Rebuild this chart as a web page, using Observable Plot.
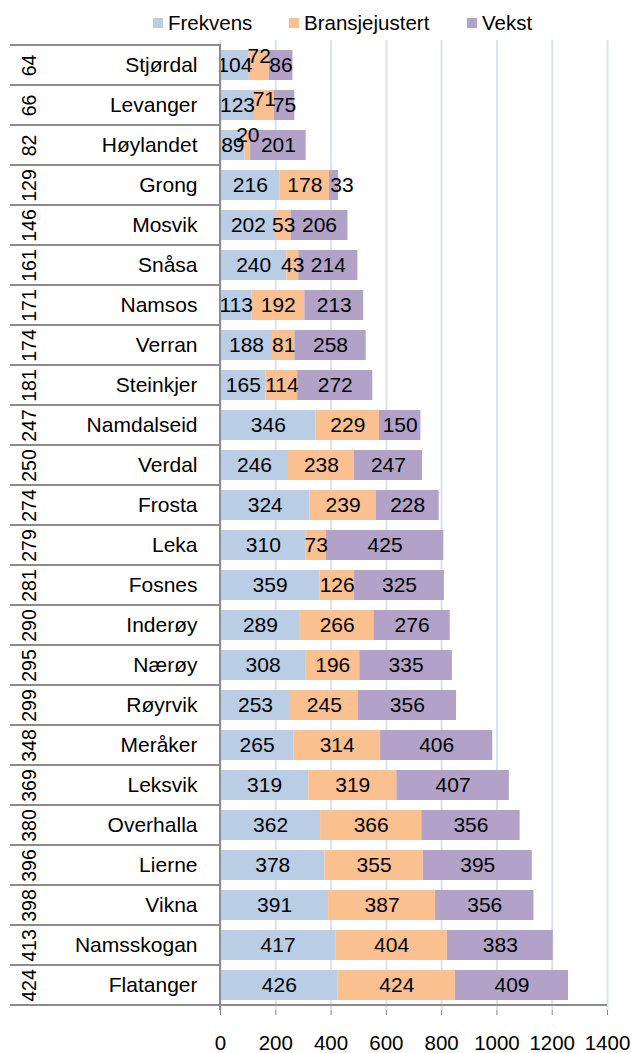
<!DOCTYPE html>
<html>
<head>
<meta charset="utf-8">
<script src="https://cdn.jsdelivr.net/npm/d3@7"></script>
<script src="https://cdn.jsdelivr.net/npm/@observablehq/plot@0.6"></script>
<style>
  body { margin: 0; background: white; font-family: "Liberation Sans", Arial, sans-serif; }
  #legend { position: relative; height: 36px; width: 634px; font-size: 20.5px; color: black; }
  .li { position: absolute; top: 0; height: 36px; display: flex; align-items: center; }
  .li span.sw { width: 10px; height: 10px; margin-right: 5px; display: inline-block; margin-top: 9px; }
  .li span.tx { line-height: 20px; margin-top: 9px; }
  svg { display: block; }
  svg [aria-label="x-axis tick"] { stroke: #868686; }
  svg [aria-label="x-axis"] line { stroke: #868686; }
  svg [aria-label="x-axis"] .domain { display: none; }
</style>
</head>
<body>
<div id="legend"></div>
<div id="chart"></div>
<script>
const names = ["Stjørdal","Levanger","Høylandet","Grong","Mosvik","Snåsa","Namsos","Verran","Steinkjer","Namdalseid","Verdal","Frosta","Leka","Fosnes","Inderøy","Nærøy","Røyrvik","Meråker","Leksvik","Overhalla","Lierne","Vikna","Namsskogan","Flatanger"];
const codes = [64,66,82,129,146,161,171,174,181,247,250,274,279,281,290,295,299,348,369,380,396,398,413,424];
const frekvens = [104,123,89,216,202,240,113,188,165,346,246,324,310,359,289,308,253,265,319,362,378,391,417,426];
const bransjejustert = [72,71,20,178,53,43,192,81,114,229,238,239,73,126,266,196,245,314,319,366,355,387,404,424];
const vekst = [86,75,201,33,206,214,213,258,272,150,247,228,425,325,276,335,356,406,407,356,395,356,383,409];
const seriesNames = ["Frekvens","Bransjejustert","Vekst"];
const seriesColors = ["#b9cde5","#fac090","#b3a2c7"];
const xTicks = [0,200,400,600,800,1000,1200,1400];

const seriesValues = [frekvens, bransjejustert, vekst];
const rows = [];
names.forEach((n, i) => {
  let start = 0;
  seriesNames.forEach((s, j) => {
    const v = seriesValues[j][i];
    rows.push({name: n, series: s, value: v, mid: start + v / 2, idx: j});
    start += v;
  });
});

// legend
const legendX = [153, 289, 467];
const legend = document.getElementById("legend");
seriesNames.forEach((s, j) => {
  const d = document.createElement("div");
  d.className = "li";
  d.style.left = legendX[j] + "px";
  d.innerHTML = `<span class="sw" style="background:${seriesColors[j]}"></span><span class="tx">${s}</span>`;
  legend.appendChild(d);
});

// label collision rules (like Excel): raise a middle label that collides with its left
// neighbour; nudge the last label right when it collides with the middle one
const pxPerUnit = (634 - 27 - 220) / 1400;
const labelW = v => String(v).length * 11.6;
rows.forEach((r, k) => {
  r.raise = 0; r.shift = 0;
  if (r.idx >= 1) {
    const left = rows[k - 1];
    const dist = (r.mid - left.mid) * pxPerUnit;
    const need = (labelW(r.value) + labelW(left.value)) / 2;
    const overlap = need - dist;
    if (r.idx === 1 && overlap > 0) r.raise = Math.round(Math.min(10, 3 + overlap * 1.2));
    if (r.idx === 2 && overlap > -4 && left.raise === 0) r.shift = Math.round(overlap + 8);
  }
});

const font = "Liberation Sans, Arial, sans-serif";
const labelMarks = [Plot.text(rows.filter(r => r.raise === 0 && r.shift === 0), {x: "mid", y: "name", text: d => String(d.value), fill: "black", fontSize: 21})];
rows.filter(r => r.raise > 0 || r.shift > 0).forEach(r => {
  labelMarks.push(Plot.text([r], {x: "mid", y: "name", text: d => String(d.value), fill: "black", fontSize: 21, dy: -r.raise, dx: r.shift}));
});

const plot = Plot.plot({
  width: 634,
  height: 1017,
  marginLeft: 220,
  marginRight: 27,
  marginTop: 4,
  marginBottom: 43,
  style: {fontFamily: font, fontSize: "20.5px", color: "black", background: "white", overflow: "visible"},
  x: {domain: [0, 1400], ticks: xTicks, tickSize: 5, tickPadding: 20, label: null, tickFormat: d => String(d)},
  y: {domain: names, paddingInner: 0.26, paddingOuter: 0.13, axis: null},
  color: {domain: seriesNames, range: seriesColors},
  marks: [
    Plot.ruleX(xTicks, {x: d => d, stroke: "#d9e3f0", strokeWidth: 2}),
    Plot.barX(rows, {x: "value", y: "name", fill: "series"}),
    ...labelMarks,
    Plot.text(names, {y: d => d, text: d => d, frameAnchor: "left", dx: -23, textAnchor: "end", fontSize: 21, fill: "black"}),
    Plot.text(names, {y: d => d, text: (d, i) => String(codes[i]), frameAnchor: "left", dx: -191, rotate: -90, textAnchor: "middle", fontSize: 19.5, fill: "black"})
  ]
});
document.getElementById("chart").appendChild(plot);

// table lines and axis lines
const ys = plot.scale("y");
const xs = plot.scale("x");
const svg = d3.select(plot);
const pad = (ys.step - ys.bandwidth) / 2;
const bounds = names.map(n => ys.apply(n) - pad);
const bottom = ys.apply(names[names.length - 1]) + ys.bandwidth + pad;
bounds.push(bottom);
const x0 = xs.apply(0);
const xEnd = xs.apply(1400);
const g = svg.append("g").attr("stroke", "#8c8c8c").attr("stroke-width", 2);
bounds.forEach((b, k) => {
  g.append("line").attr("x1", 10).attr("x2", k === bounds.length - 1 ? xEnd : x0).attr("y1", b).attr("y2", b);
});
g.append("line").attr("x1", x0).attr("x2", x0).attr("y1", bounds[0] - 1).attr("y2", bottom + 5);
</script>
</body>
</html>
